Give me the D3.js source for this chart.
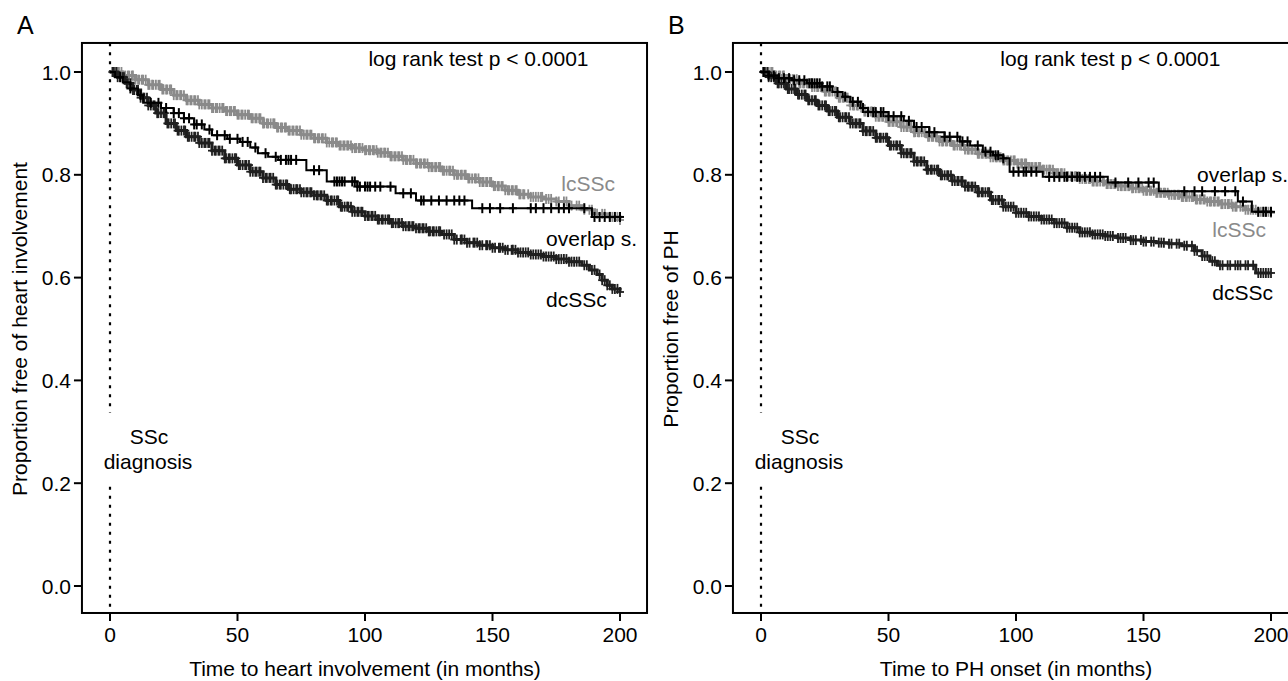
<!DOCTYPE html>
<html>
<head>
<meta charset="utf-8">
<script src="https://cdn.jsdelivr.net/npm/d3@7"></script>
<style>
  body { margin: 0; background: #fff; }
  text { font-family: "Liberation Sans", Arial, Helvetica, sans-serif; fill: #000; }
</style>
</head>
<body>
<svg id="chart" width="1288" height="681"></svg>
<script>
// ---- data ----
const xTicks = [0, 50, 100, 150, 200];
const yTicks = [0.0, 0.2, 0.4, 0.6, 0.8, 1.0];

// panel A : heart involvement  [month, proportion free]
const lcA = [[0,1],[5,0.993],[10,0.985],[15,0.975],[20,0.966],[25,0.955],[30,0.945],[35,0.937],[40,0.93],[45,0.924],[50,0.917],[55,0.91],[60,0.9],[65,0.892],[70,0.886],[75,0.878],[80,0.871],[85,0.863],[90,0.857],[95,0.852],[100,0.848],[105,0.843],[110,0.836],[115,0.829],[120,0.822],[125,0.815],[130,0.808],[135,0.8],[140,0.793],[145,0.786],[150,0.778],[155,0.77],[160,0.762],[165,0.757],[170,0.753],[175,0.748],[180,0.74],[185,0.732],[190,0.724],[195,0.718],[200,0.712]];
const dcA = [[0,1],[3,0.99],[6,0.978],[9,0.965],[12,0.95],[15,0.935],[18,0.92],[22,0.9],[26,0.886],[30,0.874],[35,0.862],[40,0.847],[45,0.832],[50,0.819],[55,0.806],[60,0.794],[65,0.781],[70,0.772],[75,0.766],[80,0.76],[85,0.75],[90,0.738],[95,0.728],[100,0.72],[105,0.713],[110,0.706],[115,0.7],[120,0.696],[125,0.69],[130,0.684],[135,0.674],[140,0.668],[145,0.663],[150,0.658],[155,0.654],[160,0.649],[165,0.645],[170,0.641],[175,0.636],[180,0.631],[185,0.624],[188,0.615],[191,0.606],[193,0.595],[195,0.585],[197,0.578],[200,0.572]];
const ovA = [[0,1],[2,0.99],[5,0.98],[8,0.968],[11,0.955],[13,0.94],[20,0.93],[25,0.92],[29,0.91],[33,0.898],[37,0.888],[40,0.877],[46,0.87],[51,0.864],[55,0.853],[58,0.842],[62,0.835],[66,0.829],[77,0.809],[85,0.787],[97,0.777],[112,0.764],[120,0.75],[142,0.735],[189,0.718],[200,0.718]];

const lcA_cens = [1,2,3,3.5,4.5,5,6,7,7.5,8.5,9,10,11,11.5,12.5,13,14,15,15.5,16.5,17,18,19,19.5,20.5,21,22,22.5,23.5,24,25,26,26.5,27.5,28,29,30,30.5,31.5,32,33,33.5,34.5,35,36,37,37.5,38.5,39,40,40.5,41.5,42,43,44,44.5,45.5,46,47,47.5,48.5,49,50,50.5,51.5,52,53,54,54.5,55.5,56,57,57.5,58.5,59,60,60.5,61.5,62,63,64,64.5,65.5,66,67,67.5,68.5,69,70,70.5,71.5,72,73,73.5,74.5,75,76,77,77.5,78.5,79,80,80.5,81.5,82,83,83.5,84.5,85,86,87,87.5,88.5,89,90,90.5,91.5,92,93,93.5,94.5,95,96,96.5,97.5,98,99,100,100.5,101.5,102,103,103.5,104.5,105,106,106.5,107.5,108,109,110,110.5,111.5,112,113,113.5,114.5,115,116,116.5,117.5,118,119,120,120.5,121.5,122,123,123.5,124.5,125,126,126.5,127.5,128,129,129.5,130.5,131,132,133,133.5,134.5,135,136,136.5,137.5,138,139,139.5,140.5,141,142,143,143.5,144.5,145,146,146.5,147.5,148,149,149.5,150.5,151,152,152.5,153.5,154,155,156,156.5,157.5,158,159,159.5,160.5,161,162,162.5,164,165,166,167,168,169,169.5,171,172,173,175,176,178,179,181,183,184,186,188,189,191,193,194,196,197,199,200];
const dcA_cens = [1,1.5,2.5,3,4,5,5.5,6.5,7,8,9,9.5,10.5,11,12,13,13.5,14.5,15,16,17,17.5,18.5,19,20,21,21.5,22.5,23,24,25,25.5,26.5,27,28,29,29.5,30.5,31,32,33,33.5,34.5,35,36,37,37.5,38.5,39,40,41,41.5,42.5,43,44,45,45.5,46.5,47,48,49,49.5,50.5,51,52,53,53.5,54.5,55,56,57,57.5,58.5,59,60,61,61.5,62.5,63,64,65,65.5,66.5,67,68,69,69.5,70.5,71,72,73,73.5,74.5,75,76,77,77.5,78.5,79,80,81,81.5,82.5,83,84,85,85.5,86.5,87,88,89,89.5,90.5,91,92,93,93.5,94.5,95,96,97,97.5,98.5,99,100,101,101.5,102.5,103,104,105,105.5,106.5,107,108,109,109.5,110.5,111,112,113,113.5,114.5,115,116,117,117.5,118.5,119,120,121,121.5,122.5,123,124,125,125.5,126.5,127,128,129,129.5,131,132,133,134,135,136,137.5,138,139,140,141,142.5,143,144,145,146,147.5,148,149,150,151,152.5,153,154,155,156,157.5,158,159,160,161,162,163,164,165,166,167,168,169,170,171,172,173,174,175,176,177,178,179,180,181,182,183,184,186,187,189,190,192,193,194,195,196,197,198,199,200];
const ovA_cens = [4,8,12,16,19,22,25,27,29,31,33,34,36,39,42,45,47,50,52,54,57,61,65,67,69,70,71,73,80,82,88,89,90,91,92,95,96,97,98,100,101,102,104,106,110,115,118,122,123,126,129,132,135,137,139,146,149,153,158,165,167,170,173,176,178,180,186,190,192,194,196,198,200];

// panel B : PH onset
const lcB = [[0,1],[5,0.993],[10,0.986],[15,0.978],[20,0.971],[25,0.962],[30,0.95],[35,0.935],[40,0.923],[45,0.913],[50,0.903],[55,0.893],[60,0.883],[65,0.874],[70,0.865],[75,0.857],[80,0.849],[85,0.841],[90,0.834],[95,0.828],[100,0.822],[105,0.815],[110,0.81],[115,0.803],[120,0.797],[125,0.792],[130,0.787],[135,0.782],[140,0.778],[145,0.774],[150,0.769],[155,0.765],[160,0.761],[165,0.757],[170,0.752],[175,0.748],[180,0.743],[185,0.738],[190,0.732],[195,0.728],[200,0.726]];
const dcB = [[0,1],[3,0.99],[6,0.978],[10,0.967],[14,0.956],[18,0.945],[22,0.935],[26,0.924],[30,0.912],[35,0.9],[40,0.885],[45,0.872],[50,0.857],[55,0.842],[60,0.826],[65,0.81],[70,0.799],[75,0.788],[80,0.777],[85,0.766],[90,0.751],[95,0.738],[100,0.726],[105,0.719],[110,0.713],[115,0.706],[120,0.697],[125,0.688],[130,0.684],[135,0.681],[140,0.677],[145,0.673],[150,0.67],[155,0.668],[160,0.666],[165,0.662],[170,0.652],[173,0.642],[176,0.632],[179,0.624],[194,0.609],[200,0.609]];
const ovB = [[0,1],[3,0.993],[7,0.988],[12,0.984],[18,0.978],[24,0.972],[28,0.961],[32,0.952],[35,0.942],[39,0.93],[42,0.922],[50,0.914],[56,0.905],[60,0.893],[66,0.883],[72,0.874],[78,0.865],[82,0.857],[87,0.845],[91,0.838],[95,0.832],[97.5,0.806],[110.5,0.796],[136,0.785],[156,0.768],[187,0.748],[192.5,0.728],[200,0.728]];

const lcB_cens = [1,1.5,2.5,3,4,4.5,5.5,6,7,7.5,8.5,9,10,11,11.5,12.5,13,14,15,15.5,16.5,17,18,18.5,19.5,20,21,22,22.5,23.5,24,25,25.5,26.5,27,28,29,29.5,30.5,31,32,32.5,33.5,34,35,36,36.5,37.5,38,39,39.5,40.5,41,42,43,43.5,44.5,45,46,46.5,47.5,48,49,50,50.5,51.5,52,53,53.5,54.5,55,56,57,57.5,58.5,59,60,60.5,61.5,62,63,64,64.5,65.5,66,67,67.5,68.5,69,70,71,71.5,72.5,73,74,74.5,75.5,76,77,78,78.5,79.5,80,81,81.5,82.5,83,84,85,85.5,86.5,87,88,88.5,89.5,90,91,92,92.5,93.5,94,95,95.5,96.5,97,98,99,99.5,100.5,101,102,102.5,103.5,104,105,106,106.5,107.5,108,109,109.5,110.5,111,112,113,113.5,114.5,115,116,116.5,117.5,118,119,120,120.5,121.5,122,123,123.5,124.5,125,126,127,127.5,128.5,129,130,130.5,131.5,132,133,134,134.5,135.5,136,137,137.5,138.5,139,140,141,141.5,142.5,143,144,144.5,145.5,146,147,148,148.5,149.5,150,151,151.5,152.5,153,154,155,155.5,156.5,157,158,158.5,159.5,160,161,162,162.5,163.5,164,165,165.5,166.5,167,168,169,169.5,170.5,171,172,172.5,173.5,174,175,176,176.5,177.5,178,179,179.5,180.5,181,182,183,183.5,184.5,185,186,186.5,188,189,190,191,192,193,194,195,196,197,198,199,200];
const dcB_cens = [1,1.5,2.5,3,4,5,5.5,6.5,7,8,9,9.5,10.5,11,12,13,13.5,14.5,15,16,17,17.5,18.5,19,20,21,21.5,22.5,23,24,25,25.5,26.5,27,28,29,29.5,30.5,31,32,33,33.5,34.5,35,36,37,37.5,38.5,39,40,41,41.5,42.5,43,44,45,45.5,46.5,47,48,49,49.5,50.5,51,52,53,53.5,54.5,55,56,57,57.5,58.5,59,60,61,61.5,62.5,63,64,65,65.5,66.5,67,68,69,69.5,70.5,71,72,73,73.5,74.5,75,76,77,77.5,78.5,79,80,81,81.5,82.5,83,84,85,85.5,86.5,87,88,89,89.5,90.5,91,92,93,93.5,94.5,95,96,97,98,99,100,101,102,103,104,105,106,107,108,109,110,111,112,113,114,115,116,117,118,119,120,121,122,123,124,125,126,127,128,129,130,131,132,133,134,135,136,137,138,140,141,142,143,145,146,147,149,150,151,153,154,156,157,158,160,161,163,164,166,167,169,170,171,173,174,175,177,178,180,181,183,184,186,187,188,190,191,193,195,196,197,198,199,200];
const ovB_cens = [1,3,5,7,9,11,13,15,17,19,20,21,22,23,24,26,27,30,33,36,38,40,42,44,45,47,48,50,52,55,58,61,63,66,68,72,74,77,79,81,85,88,90,92,93,95,99,101,103,104,106,108,113,115,117,119,120,122,124,125,127,129,131,133,139,144,148,152,154,166,170,173,178,182,186,189,195,197,198,200];

// ---- styling ----
const GRAY = "#8a8a8a", DARK = "#1f1f1f", BLACK = "#000";
const FS = 21;
const svg = d3.select("#chart");
svg.append("rect").attr("width", 1288).attr("height", 681).attr("fill", "#fff");

const bisect = d3.bisector(d => d[0]).right;
const survAt = (pts, t) => pts[Math.max(0, bisect(pts, t) - 1)][1];

function drawPanel(cfg) {
  const x = d3.scaleLinear().domain([0, 200]).range(cfg.xRange);
  const y = d3.scaleLinear().domain([0, 1]).range([586, 72]);
  const g = svg.append("g");

  // box
  const x0 = x(-11), x1 = x(210.6), y0 = y(1.0565), y1 = y(-0.0525);
  g.append("rect").attr("x", x0).attr("y", y0)
    .attr("width", x1 - x0).attr("height", y1 - y0)
    .attr("fill", "none").attr("stroke", "#000").attr("stroke-width", 2);

  // y axis
  yTicks.forEach(v => {
    g.append("line").attr("x1", x0).attr("x2", x0 - 8).attr("y1", y(v)).attr("y2", y(v))
      .attr("stroke", "#000").attr("stroke-width", 2);
    g.append("text").attr("x", x0 - 11).attr("y", y(v) + 7.5)
      .attr("text-anchor", "end").attr("font-size", FS).text(v.toFixed(1));
  });
  // x axis
  xTicks.forEach(v => {
    g.append("line").attr("x1", x(v)).attr("x2", x(v)).attr("y1", y1).attr("y2", y1 + 8)
      .attr("stroke", "#000").attr("stroke-width", 2);
    g.append("text").attr("x", x(v)).attr("y", 642)
      .attr("text-anchor", "middle").attr("font-size", FS).text(v);
  });

  g.append("text").attr("x", x(100)).attr("y", 676).attr("text-anchor", "middle")
    .attr("font-size", FS).text(cfg.xTitle);
  g.append("text").attr("transform", `translate(${x0 - 55},${y(0.5)}) rotate(-90)`)
    .attr("text-anchor", "middle").attr("font-size", FS).text(cfg.yTitle);
  g.append("text").attr("x", x0 - 65).attr("y", 34).attr("font-size", 25).text(cfg.letter);
  g.append("text").attr("x", x(cfg.testT)).attr("y", 66).attr("text-anchor", "middle")
    .attr("font-size", FS).text("log rank test p < 0.0001");

  // SSc diagnosis marker
  [[1.056, 0.337], [0.193, -0.052]].forEach(([a, b]) => {
    g.append("line").attr("x1", x(0)).attr("x2", x(0)).attr("y1", y(a)).attr("y2", y(b))
      .attr("stroke", "#000").attr("stroke-width", 2.2).attr("stroke-dasharray", "3,6");
  });
  g.append("text").attr("x", x(0) + 39).attr("y", 444).attr("text-anchor", "middle")
    .attr("font-size", FS).text("SSc");
  g.append("text").attr("x", x(0) + 38).attr("y", 469).attr("text-anchor", "middle")
    .attr("font-size", FS).text("diagnosis");

  // curves
  const line = d3.line().x(d => x(d[0])).y(d => y(d[1])).curve(d3.curveStepAfter);
  cfg.series.forEach(s => {
    g.append("path").datum(s.pts).attr("d", line)
      .attr("fill", "none").attr("stroke", s.color).attr("stroke-width", s.width);
    const m = g.append("g").attr("stroke", s.color).attr("stroke-width", s.mark);
    s.cens.forEach(t => {
      const cx = x(t), cy = y(survAt(s.pts, t));
      m.append("line").attr("x1", cx).attr("x2", cx).attr("y1", cy - 5).attr("y2", cy + 5);
      m.append("line").attr("x1", cx - 4).attr("x2", cx + 4).attr("y1", cy).attr("y2", cy);
    });
  });

  cfg.labels.forEach(l => {
    g.append("text").attr("x", x(l.t)).attr("y", l.y).attr("font-size", FS)
      .style("fill", l.color).text(l.text);
  });
}

drawPanel({
  letter: "A", xRange: [110, 620], testT: 144.5,
  xTitle: "Time to heart involvement (in months)",
  yTitle: "Proportion free of heart involvement",
  series: [
    { pts: lcA, cens: lcA_cens, color: GRAY, width: 3, mark: 1.8 },
    { pts: dcA, cens: dcA_cens, color: DARK, width: 3, mark: 1.8 },
    { pts: ovA, cens: ovA_cens, color: BLACK, width: 2, mark: 2 }
  ],
  labels: [
    { text: "lcSSc", t: 177, y: 191, color: GRAY },
    { text: "overlap s.", t: 171, y: 246, color: BLACK },
    { text: "dcSSc", t: 171, y: 307, color: BLACK }
  ]
});

drawPanel({
  letter: "B", xRange: [761, 1271], testT: 137,
  xTitle: "Time to PH onset (in months)",
  yTitle: "Proportion free of PH",
  series: [
    { pts: lcB, cens: lcB_cens, color: GRAY, width: 3, mark: 1.8 },
    { pts: dcB, cens: dcB_cens, color: DARK, width: 3, mark: 1.8 },
    { pts: ovB, cens: ovB_cens, color: BLACK, width: 2, mark: 2 }
  ],
  labels: [
    { text: "overlap s.", t: 171, y: 182, color: BLACK },
    { text: "lcSSc", t: 177, y: 237, color: GRAY },
    { text: "dcSSc", t: 177, y: 300, color: BLACK }
  ]
});
</script>
</body>
</html>
